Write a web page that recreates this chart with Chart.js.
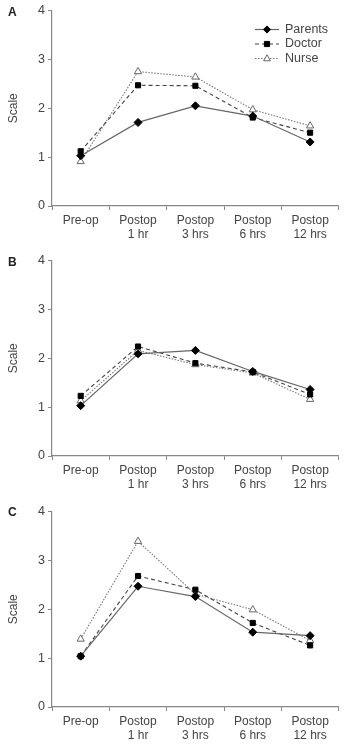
<!DOCTYPE html>
<html>
<head>
<meta charset="utf-8">
<script src="https://cdn.jsdelivr.net/npm/chart.js@4.4.1/dist/chart.umd.min.js"></script>
<style>
  html, body { margin: 0; padding: 0; background: #fff; }
  body { width: 344px; height: 746px; position: relative; overflow: hidden; }
  .panel { position: absolute; left: 0; width: 344px; height: 245px; }
  .letter { position: absolute; left: 8px; font: bold 12px "Liberation Sans", Arial, sans-serif; color: #222; }
</style>
</head>
<body>
<div class="panel" style="top:0px"><canvas id="cA" width="344" height="245"></canvas></div>
<div class="panel" style="top:250px"><canvas id="cB" width="344" height="245"></canvas></div>
<div class="panel" style="top:501px"><canvas id="cC" width="344" height="245"></canvas></div>
<div class="letter" style="top:5px">A</div>
<div class="letter" style="top:255px">B</div>
<div class="letter" style="top:505px">C</div>
<script>
// ---- Data ----
const categories = [['Pre-op'], ['Postop', '1 hr'], ['Postop', '3 hrs'], ['Postop', '6 hrs'], ['Postop', '12 hrs']];
const seriesNames = ['Parents', 'Doctor', 'Nurse'];
const yTicks = [0, 1, 2, 3, 4];

const parentsA = [1.03, 1.71, 2.05, 1.84, 1.31];
const doctorA  = [1.12, 2.47, 2.46, 1.81, 1.50];
const nurseA   = [0.91, 2.75, 2.64, 1.97, 1.64];

const parentsB = [1.03, 2.09, 2.16, 1.73, 1.36];
const doctorB  = [1.23, 2.24, 1.90, 1.72, 1.26];
const nurseB   = [1.13, 2.16, 1.87, 1.70, 1.16];

const parentsC = [1.04, 2.47, 2.26, 1.53, 1.46];
const doctorC  = [1.04, 2.68, 2.40, 1.72, 1.26];
const nurseC   = [1.39, 3.39, 2.31, 1.99, 1.36];

// ---- Styles ----
const FONT = '"Liberation Sans", Arial, sans-serif';
const LINE = '#666';
const AXIS = '#888';
const TEXT = '#444';

function makeDatasets(p, d, n) {
  return [
    { label: seriesNames[0], data: p, borderColor: LINE, borderWidth: 1.2, borderDash: [],
      pointStyle: 'rectRot', pointRadius: 4, pointBackgroundColor: '#000', pointBorderColor: '#000', pointBorderWidth: 1 },
    { label: seriesNames[1], data: d, borderColor: '#444', borderWidth: 1.1, borderDash: [4, 3],
      pointStyle: 'rect', pointRadius: 3.6, pointBackgroundColor: '#000', pointBorderColor: '#000', pointBorderWidth: 1 },
    { label: seriesNames[2], data: n, borderColor: '#777', borderWidth: 1.1, borderDash: [1.5, 1.5],
      pointStyle: 'triangle', pointRadius: 4.2, pointBackgroundColor: '#fff', pointBorderColor: '#666', pointBorderWidth: 1 }
  ];
}

const customLegend = {
  id: 'customLegend',
  afterDraw(chart, args, opts) {
    if (!opts.show) return;
    const ctx = chart.ctx;
    const rows = [29.5, 44, 58.5];
    chart.data.datasets.forEach((ds, i) => {
      const y = rows[i];
      ctx.save();
      ctx.strokeStyle = ds.borderColor;
      ctx.lineWidth = ds.borderWidth;
      ctx.setLineDash(ds.borderDash);
      ctx.beginPath();
      ctx.moveTo(255, y);
      ctx.lineTo(279, y);
      ctx.stroke();
      ctx.setLineDash([]);
      ctx.fillStyle = ds.pointBackgroundColor;
      ctx.strokeStyle = ds.pointBorderColor;
      ctx.lineWidth = ds.pointBorderWidth;
      ctx.beginPath();
      const r = ds.pointRadius * 0.9;
      if (ds.pointStyle === 'rectRot') {
        ctx.moveTo(267, y - r); ctx.lineTo(267 + r, y); ctx.lineTo(267, y + r); ctx.lineTo(267 - r, y); ctx.closePath();
      } else if (ds.pointStyle === 'rect') {
        ctx.rect(267 - r * 0.8, y - r * 0.8, r * 1.6, r * 1.6);
      } else {
        ctx.moveTo(267, y - r); ctx.lineTo(267 + r * 0.9, y + r * 0.6); ctx.lineTo(267 - r * 0.9, y + r * 0.6); ctx.closePath();
      }
      ctx.fill(); ctx.stroke();
      ctx.fillStyle = TEXT;
      ctx.font = '12.5px ' + FONT;
      ctx.textBaseline = 'middle';
      ctx.textAlign = 'left';
      ctx.fillText(ds.label, 285, y);
      ctx.restore();
    });
  }
};

function makeChart(id, p, d, n, showLegend) {
  return new Chart(document.getElementById(id), {
    type: 'line',
    data: { labels: categories, datasets: makeDatasets(p, d, n) },
    plugins: [customLegend],
    options: {
      responsive: false,
      animation: false,
      clip: false,
      layout: { padding: { top: 6, right: 4, left: 0, bottom: 0 } },
      plugins: {
        legend: { display: false },
        tooltip: { enabled: false },
        customLegend: { show: showLegend }
      },
      elements: { line: { tension: 0, fill: false } },
      scales: {
        x: {
          type: 'category',
          offset: true,
          grid: { display: true, offset: true, drawOnChartArea: false, drawTicks: true, tickLength: 4, color: AXIS },
          border: { display: true, color: AXIS, width: 1.2 },
          ticks: { color: TEXT, font: { family: FONT, size: 12 }, padding: 3, maxRotation: 0, autoSkip: false },
          afterFit(scale) { scale.height = 39; }
        },
        y: {
          min: 0, max: 4,
          afterBuildTicks(scale) { scale.ticks = yTicks.map(v => ({ value: v })); },
          grid: { display: true, drawOnChartArea: false, drawTicks: true, tickLength: 4, color: AXIS },
          border: { display: true, color: AXIS, width: 1.2 },
          ticks: { color: TEXT, font: { family: FONT, size: 12.5 }, padding: 3 },
          title: { display: true, text: 'Scale', color: TEXT, font: { family: FONT, size: 12 }, padding: { top: 6, bottom: 2 } },
          afterFit(scale) { scale.width = 52; }
        }
      }
    }
  });
}

makeChart('cA', parentsA, doctorA, nurseA, true);
makeChart('cB', parentsB, doctorB, nurseB, false);
makeChart('cC', parentsC, doctorC, nurseC, false);
</script>
</body>
</html>
